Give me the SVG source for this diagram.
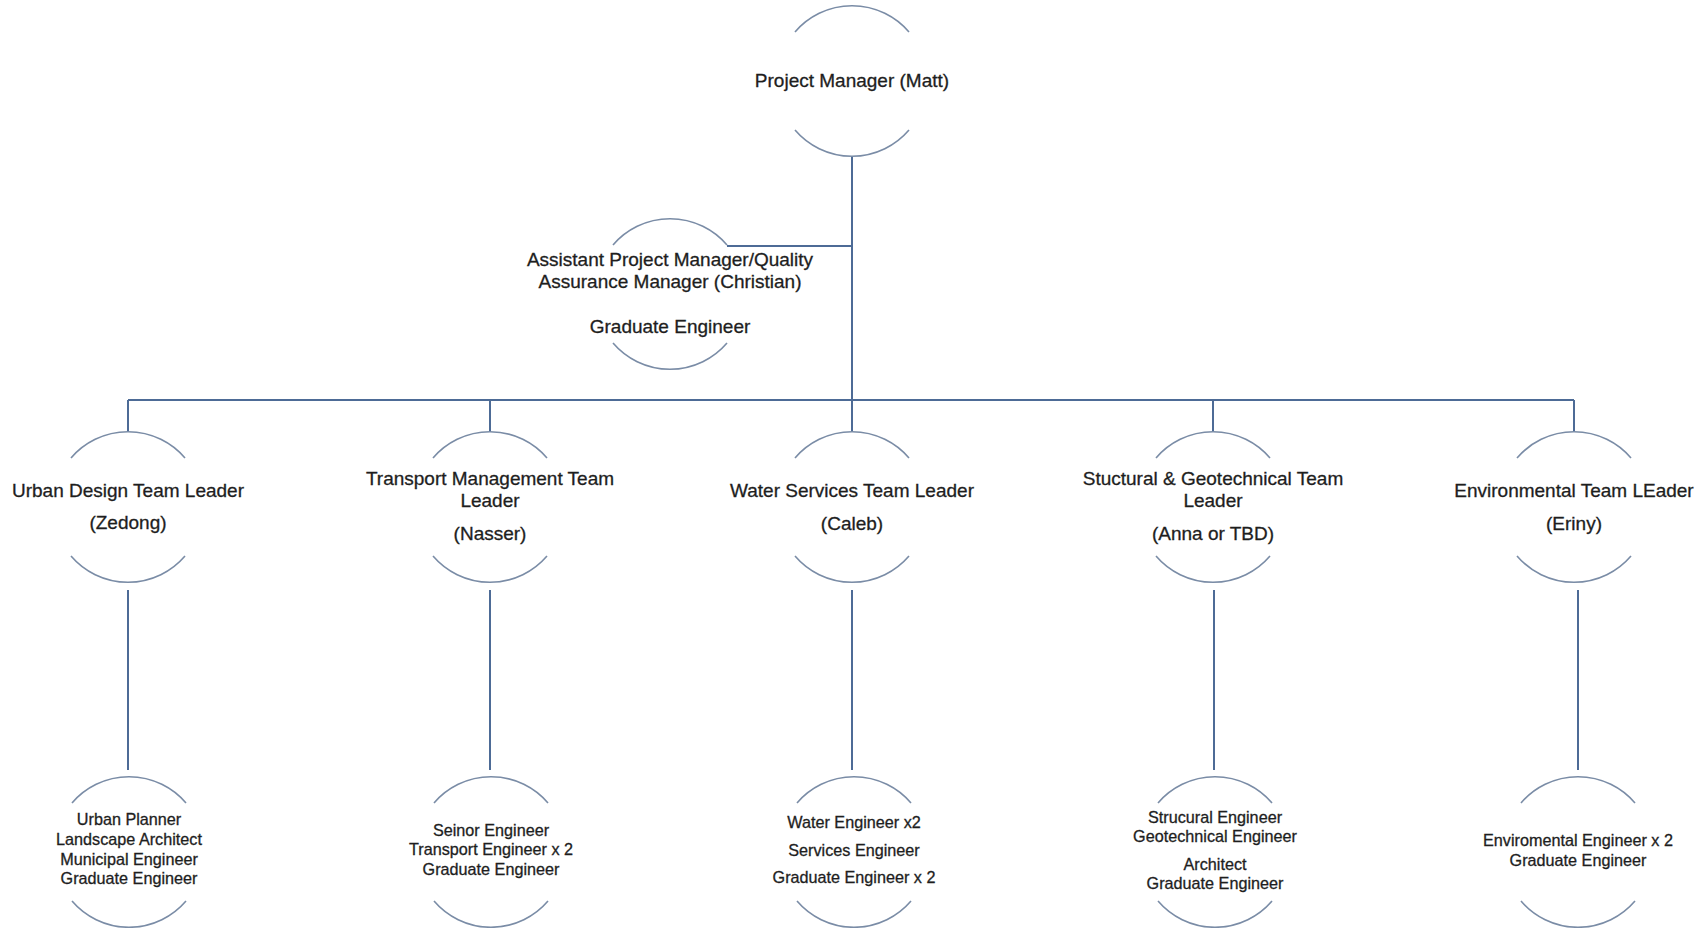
<svg xmlns="http://www.w3.org/2000/svg" width="1704" height="928" viewBox="0 0 1704 928">
<style>
  .arc { fill: none; stroke: #7a8ca6; stroke-width: 1.6; }
  .con { fill: none; stroke: #4d6b96; stroke-width: 2; }
  .t { font-family: "Liberation Sans", Arial, sans-serif; fill: #1e1e1e; stroke: #1e1e1e; stroke-width: 0.3; text-anchor: middle; }
  .up { font-size: 19px; }
  .lo { font-size: 16.2px; }
</style>
<defs>
  <path id="ring" d="M -57,-49 A 75 75 0 0 1 57,-49 M -57,49 A 75 75 0 0 0 57,49"/>
</defs>
<rect width="1704" height="928" fill="#ffffff"/>
<g id="connectors">
  <path class="con" d="M 852,156 V 400"/>
  <path class="con" d="M 727,246 H 852"/>
  <path class="con" d="M 128,400 H 1574"/>
  <path class="con" d="M 128,400 V 432 M 490,400 V 432 M 852,400 V 432 M 1213,400 V 432 M 1574,400 V 432"/>
  <path class="con" d="M 128,590 V 770 M 490,590 V 770 M 852,590 V 770 M 1214,590 V 770 M 1578,590 V 770"/>
</g>
<g id="pm">
  <use href="#ring" class="arc" x="852" y="81"/>
  <text class="t up" x="852" y="87">Project Manager (Matt)</text>
</g>
<g id="apm">
  <use href="#ring" class="arc" x="670" y="294"/>
  <text class="t up" x="670" y="266">Assistant Project Manager/Quality</text>
  <text class="t up" x="670" y="288">Assurance Manager (Christian)</text>
  <text class="t up" x="670" y="333">Graduate Engineer</text>
</g>
<g id="urban-leader">
  <use href="#ring" class="arc" x="128" y="507"/>
  <text class="t up" x="128" y="497">Urban Design Team Leader</text>
  <text class="t up" x="128" y="529">(Zedong)</text>
</g>
<g id="transport-leader">
  <use href="#ring" class="arc" x="490" y="507"/>
  <text class="t up" x="490" y="485">Transport Management Team</text>
  <text class="t up" x="490" y="507">Leader</text>
  <text class="t up" x="490" y="540">(Nasser)</text>
</g>
<g id="water-leader">
  <use href="#ring" class="arc" x="852" y="507"/>
  <text class="t up" x="852" y="497">Water Services Team Leader</text>
  <text class="t up" x="852" y="530">(Caleb)</text>
</g>
<g id="structural-leader">
  <use href="#ring" class="arc" x="1213" y="507"/>
  <text class="t up" x="1213" y="485">Stuctural &amp; Geotechnical Team</text>
  <text class="t up" x="1213" y="507">Leader</text>
  <text class="t up" x="1213" y="540">(Anna or TBD)</text>
</g>
<g id="env-leader">
  <use href="#ring" class="arc" x="1574" y="507"/>
  <text class="t up" x="1574" y="497">Environmental Team LEader</text>
  <text class="t up" x="1574" y="530">(Eriny)</text>
</g>
<g id="urban-team">
  <use href="#ring" class="arc" x="129" y="852"/>
  <text class="t lo" x="129" y="825">Urban Planner</text>
  <text class="t lo" x="129" y="845">Landscape Architect</text>
  <text class="t lo" x="129" y="865">Municipal Engineer</text>
  <text class="t lo" x="129" y="884">Graduate Engineer</text>
</g>
<g id="transport-team">
  <use href="#ring" class="arc" x="491" y="852"/>
  <text class="t lo" x="491" y="836">Seinor Engineer</text>
  <text class="t lo" x="491" y="855">Transport Engineer x 2</text>
  <text class="t lo" x="491" y="875">Graduate Engineer</text>
</g>
<g id="water-team">
  <use href="#ring" class="arc" x="854" y="852"/>
  <text class="t lo" x="854" y="828">Water Engineer x2</text>
  <text class="t lo" x="854" y="856">Services Engineer</text>
  <text class="t lo" x="854" y="883">Graduate Engineer x 2</text>
</g>
<g id="structural-team">
  <use href="#ring" class="arc" x="1215" y="852"/>
  <text class="t lo" x="1215" y="823">Strucural Engineer</text>
  <text class="t lo" x="1215" y="842">Geotechnical Engineer</text>
  <text class="t lo" x="1215" y="870">Architect</text>
  <text class="t lo" x="1215" y="889">Graduate Engineer</text>
</g>
<g id="env-team">
  <use href="#ring" class="arc" x="1578" y="852"/>
  <text class="t lo" x="1578" y="846">Enviromental Engineer x 2</text>
  <text class="t lo" x="1578" y="866">Graduate Engineer</text>
</g>
</svg>
